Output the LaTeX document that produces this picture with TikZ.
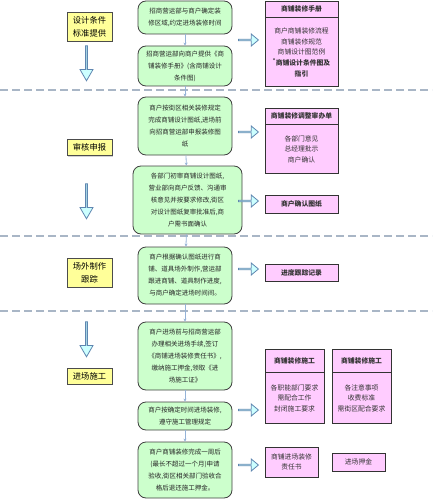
\documentclass[tikz,border=0pt]{standalone}
\usepackage{fontspec}
\setmainfont{Noto Sans CJK SC}
\usetikzlibrary{shapes.arrows,shadows,arrows.meta}
\definecolor{boxgreen}{HTML}{CCFFCC}
\definecolor{boxyellow}{HTML}{FFFF99}
\definecolor{boxpink}{HTML}{FFCCFF}
\definecolor{arrowcyan}{HTML}{CCFFFF}
\definecolor{arrowedge}{HTML}{5F86B0}
\definecolor{flowblue}{HTML}{95B3D7}
\definecolor{dashgray}{HTML}{A9B6C6}
\tikzset{
  stagebox/.style={draw=black!70,fill=boxyellow,minimum width=45pt,inner sep=0pt,
    align=center,font=\fontsize{8.3}{13}\selectfont,
    drop shadow={shadow xshift=1pt,shadow yshift=-1pt,fill=black!35}},
  flowbox/.style={draw=black!75,fill=boxgreen,rounded corners=8pt,line width=0.8pt,
    minimum width=94pt,inner sep=0pt,align=center,text=black!85,
    font=\fontsize{6.5}{12}\selectfont},
  docbox/.style={draw=black!80,fill=boxpink,line width=0.8pt,inner sep=0pt,
    align=center,text=black!80,font=\fontsize{6.8}{10.7}\selectfont},
  dochead/.style={docbox,font=\bfseries\fontsize{6.8}{10.7}\selectfont},
  downarrow/.style={single arrow,draw=arrowedge,fill=arrowcyan,line width=0.8pt,
    inner sep=0pt,minimum width=13pt,minimum height=35pt,single arrow head extend=2.5pt,
    single arrow tip angle=60,shape border rotate=270},
  rightarrow/.style={single arrow,draw=arrowedge,fill=arrowcyan,line width=0.8pt,
    inner sep=0pt,minimum width=12pt,minimum height=20pt,single arrow head extend=3pt,
    single arrow tip angle=80},
  flowline/.style={draw=flowblue,line width=0.8pt,-{Stealth[length=3pt,width=3pt]}},
  divider/.style={draw=dashgray,line width=1.2pt,dash pattern=on 8pt off 4pt}
}
\begin{document}
\begin{tikzpicture}[x=1pt,y=-1pt]
  \useasboundingbox (0,0) rectangle (438,500);
  % separators between the stages
  \draw[divider] (0,90) -- (432,90);
  \draw[divider] (0,236) -- (432,236);
  \draw[divider] (0,311) -- (432,311);
  % stage labels on the left
  \node[stagebox,minimum height=29pt] (S1) at (89.5,26.5) {设计条件\\标准提供};
  \node[stagebox,minimum height=16pt] (S2) at (89.5,147.5) {审核申报};
  \node[stagebox,minimum height=29pt] (S3) at (89.5,272.5) {场外制作\\跟踪};
  \node[stagebox,minimum height=16pt] (S4) at (89.5,376) {进场施工};
  \node[downarrow] (D1) at (86.5,62.5) {};
  \node[downarrow] (D2) at (86.5,200.5) {};
  \node[downarrow] (D3) at (86.5,338.5) {};
  % steps in the middle
  \node[flowbox,minimum height=33pt] (B1) at (185,17.5)
    {招商营运部与商户确定装\\修区域,约定进场装修时间};
  \node[flowbox,minimum height=40pt] (B2) at (185,66)
    {招商营运部向商户提供《商\\铺装修手册》(含商铺设计\\条件图)};
  \node[flowbox,minimum height=58pt] (B3) at (185,126)
    {商户按街区相关装修规定\\完成商铺设计图纸,进场前\\向招商营运部申报装修图\\纸};
  \node[flowbox,minimum height=68pt,minimum width=109pt] (B4) at (187.5,200)
    {各部门初审商铺设计图纸,\\营业部向商户反馈、沟通审\\核意见并按要求修改,街区\\对设计图纸复审批准后,商\\户需书面确认};
  \node[flowbox,minimum height=57pt] (B5) at (185,275.5)
    {商户根据确认图纸进行商\\铺、道具场外制作,营运部\\跟进商铺、道具制作进度,\\与商户确定进场时间间。};
  \node[flowbox,minimum height=68pt] (B6) at (185,356)
    {商户进场前与招商营运部\\办理相关进场手续,签订\\《商铺进场装修责任书》,\\缴纳施工押金,领取《进\\场施工证》};
  \node[flowbox,minimum height=28pt] (B7) at (185,416)
    {商户按确定时间进场装修,\\遵守施工管理规定};
  \node[flowbox,minimum height=56pt] (B8) at (185,470)
    {商户商铺装修完成一周后\\(最长不超过一个月)申请\\验收,街区相关部门验收合\\格后退还施工押金。};
  \draw[flowline] (B1) -- (B2);
  \draw[flowline] (B2) -- (B3);
  \draw[flowline] (B3) -- (B4);
  \draw[flowline] (B4) -- (B5);
  \draw[flowline] (B5) -- (B6);
  \draw[flowline] (B6) -- (B7);
  \draw[flowline] (B7) -- (B8);
  \node[rightarrow] (R1) at (248,40) {};
  \node[rightarrow] (R2) at (248,132) {};
  \node[rightarrow] (R3) at (248,201) {};
  \node[rightarrow] (R4) at (248,269) {};
  \node[rightarrow] (R5) at (248,410) {};
  \node[rightarrow] (R6) at (248,465) {};
  % documents on the right
  \node[dochead,minimum width=73pt,minimum height=16pt] (P1h) at (301.5,9) {商铺装修手册};
  \node[docbox,minimum width=73pt,minimum height=69pt,anchor=north] (P1b) at (P1h.south)
    {商户商铺装修流程\\商铺装修规范\\商铺设计图范例\\\textbf{\textsuperscript{*}商铺设计条件图及}\\\textbf{指引}};
  \node[dochead,minimum width=73pt,minimum height=16pt] (P2h) at (301.5,116) {商铺装修调整审办单};
  \node[docbox,minimum width=73pt,minimum height=49pt,anchor=north] (P2b) at (P2h.south)
    {各部门意见\\总经理批示\\商户确认};
  \node[dochead,minimum width=73pt,minimum height=18pt] (P3) at (301.5,204) {商户确认图纸};
  \node[dochead,minimum width=73pt,minimum height=17pt] (P4) at (301.5,272.5) {进度跟踪记录};
  \node[dochead,minimum width=59pt,minimum height=23pt] (P5h) at (294.5,360.5) {商铺装修施工};
  \node[docbox,minimum width=59pt,minimum height=51pt,anchor=north] (P5b) at (P5h.south)
    {各职能部门要求\\需配合工作\\封闭施工要求};
  \node[dochead,minimum width=59pt,minimum height=23pt] (P6h) at (361.5,360.5) {商铺装修施工};
  \node[docbox,minimum width=59pt,minimum height=51pt,anchor=north] (P6b) at (P6h.south)
    {各注意事项\\收费标准\\需街区配合要求};
  \node[docbox,minimum width=53pt,minimum height=30pt] (P7) at (291.5,462) {商铺进场装修\\责任书};
  \node[docbox,minimum width=53pt,minimum height=18pt] (P8) at (358.5,462) {进场押金};
\end{tikzpicture}
\end{document}
